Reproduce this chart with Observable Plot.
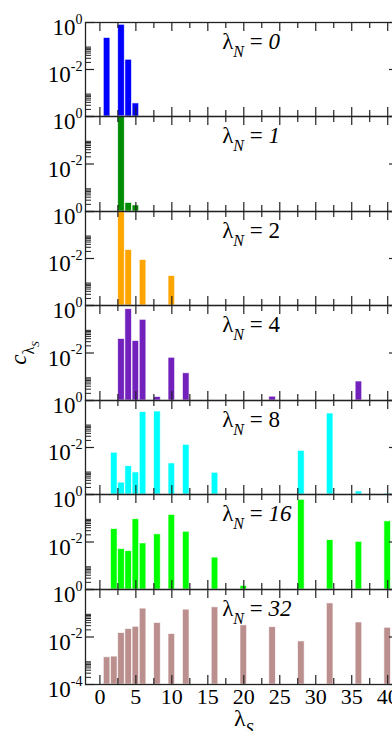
<!DOCTYPE html>
<html><head><meta charset="utf-8">
<script src="https://cdn.jsdelivr.net/npm/d3@7"></script>
<script src="https://cdn.jsdelivr.net/npm/@observablehq/plot@0.6"></script>
<style>
html, body {margin:0; padding:0; background:#fff;}
#chart {position:relative; width:392px; height:731px; overflow:hidden; background:#fff;}
#chart svg, #chart svg text, #chart svg tspan {font-family: 'Liberation Serif', 'Times New Roman', serif !important;}
</style></head><body><div id="chart"></div>
<script>
// ---- data ----
const lambdaN = [0, 1, 2, 4, 8, 16, 32];
const panelLabels = ["λ_{N} = *0*", "λ_{N} = *1*", "λ_{N} = 2", "λ_{N} = 4", "λ_{N} = 8", "λ_{N} = *16*", "λ_{N} = *32*"];
const colors = ["#0000ff", "#008b00", "#ffa500", "#7221bc", "#00ffff", "#00ff00", "#bc8f8f"];

const xs0 = [1, 3, 4, 5];
const c0  = [0.22, 0.80, 0.026, 3.6e-4];
const xs1 = [3, 4, 5];
const c1  = [0.98, 2.3e-4, 1.8e-4];
const xs2 = [3, 4, 6, 10];
const c2  = [0.95, 0.023, 0.0087, 0.0018];
const xs3 = [3, 4, 5, 6, 8, 10, 12, 24, 36];
const c3  = [0.039, 0.70, 0.032, 0.25, 1.4e-4, 0.0063, 0.0014, 1.45e-4, 6.3e-4];
const xs4 = [2, 3, 4, 5, 6, 8, 10, 12, 16, 28, 32, 36, 40];
const c4  = [0.006, 3.2e-4, 0.0016, 8.7e-4, 0.32, 0.34, 0.0021, 0.013, 8.4e-4, 0.0072, 0.28, 1.35e-4, 1.1e-4];
const xs5 = [2, 3, 4, 5, 6, 8, 10, 12, 16, 20, 28, 32, 36, 40];
const c5  = [0.035, 0.005, 0.0041, 0.091, 0.0087, 0.021, 0.138, 0.027, 0.0022, 1.4e-4, 0.6, 0.012, 0.0102, 0.074];
const xs6 = [1, 2, 3, 4, 5, 6, 8, 10, 12, 16, 20, 24, 28, 32, 36, 40];
const c6  = [0.0014, 0.0015, 0.0146, 0.0215, 0.027, 0.157, 0.039, 0.0133, 0.142, 0.178, 0.031, 0.026, 0.0065, 0.26, 0.041, 0.0245];

const seriesX = [xs0, xs1, xs2, xs3, xs4, xs5, xs6];
const seriesC = [c0, c1, c2, c3, c4, c5, c6];

const xMajorTicks = [0, 5, 10, 15, 20, 25, 30, 35, 40];
const xMinorTicks = [2.5, 7.5, 12.5, 17.5, 22.5, 27.5, 32.5, 37.5];
const yMajorTicks = [1, 1e-2, 1e-4];
const yMinorTicks = [2e-2, 3e-2, 4e-2, 5e-2, 6e-2, 7e-2, 8e-2, 9e-2, 2e-4, 3e-4, 4e-4, 5e-4, 6e-4, 7e-4, 8e-4, 9e-4];
const yTickLabelText = ["10^{0}", "10^{-2}", "10^{-4}"];
const xTitle = "λ_{S}";
const yTitle = "*c*_{λ}__{S}";

// ---- layout ----
const panelTop = [22, 116, 211, 305, 400, 494, 589];
const panelH = [94, 95, 94, 95, 94, 95, 95];
const W = 400, ML = 85, MR = 2, MT = 22, MB = 47;
const innerW = W - ML - MR;
const FONT = "'Liberation Serif', 'Times New Roman', serif";

function richify(svg) {
  d3.select(svg).selectAll("text").each(function () {
    const s = this.textContent;
    if (!/[\^_*]/.test(s)) return;
    const tokens = s.match(/\^\{[^}]*\}|__\{[^}]*\}|_\{[^}]*\}|\*[^*]*\*|[^\^_*]+/g);
    const el = d3.select(this);
    el.text(null).attr("dy", null);
    let cur = 0;
    for (const tok of tokens) {
      let txt = tok, shift = 0, size = null, italic = false;
      if (tok.startsWith("^{")) { txt = tok.slice(2, -1); shift = -11.5; size = 14; }
      else if (tok.startsWith("__{")) { txt = tok.slice(3, -1); shift = 13; size = 11; italic = true; }
      else if (tok.startsWith("_{")) { txt = tok.slice(2, -1); shift = 8.5; size = 16; italic = /^[A-Za-z]+$/.test(txt); }
      else if (tok.startsWith("*")) { txt = tok.slice(1, -1); italic = true; }
      const ts = el.append("tspan").text(txt);
      if (shift !== cur) ts.attr("dy", shift - cur);
      if (size) ts.attr("font-size", size);
      if (italic) ts.attr("font-style", "italic");
      cur = shift;
    }
  });
}

const chart = document.getElementById("chart");
lambdaN.forEach((ln, i) => {
  const H = panelH[i];
  const rows = seriesX[i].map((x, j) => ({x, c: seriesC[i][j]}));
  const last = i === lambdaN.length - 1;
  const yLabels = yMajorTicks.map((v, k) => ({v, t: yTickLabelText[k]})).filter((d, k) => last || k < 2);
  const marks = [
    Plot.rect(rows, {x1: d => d.x - 0.46, x2: d => d.x + 0.46, y1: 1e-4, y2: "c", fill: colors[i], stroke: "white", strokeWidth: 0.8, strokeOpacity: 0.8}),
    Plot.frame({stroke: "#222", strokeWidth: 1.3}),
    Plot.ruleX(xMajorTicks, {x: d => d, insetBottom: H - 9, stroke: "#222", strokeWidth: 1.2}),
    Plot.ruleX(xMinorTicks, {x: d => d, insetBottom: H - 6, stroke: "#222", strokeWidth: 1.2}),
    Plot.ruleX(xMajorTicks, {x: d => d, insetTop: H - 9, stroke: "#222", strokeWidth: 1.2}),
    Plot.ruleX(xMinorTicks, {x: d => d, insetTop: H - 6, stroke: "#222", strokeWidth: 1.2}),
    Plot.ruleY(yMajorTicks, {y: d => d, insetRight: innerW - 9, stroke: "#222", strokeWidth: 1.2}),
    Plot.ruleY(yMinorTicks, {y: d => d, insetRight: innerW - 6, stroke: "#222", strokeWidth: 1}),
    Plot.ruleY(yMajorTicks, {y: d => d, insetLeft: innerW - 9, stroke: "#222", strokeWidth: 1.2}),
    Plot.text(yLabels, {y: "v", text: "t", frameAnchor: "left", textAnchor: "end", lineAnchor: "bottom", dx: -3, dy: 12.5, fontSize: 23, fill: "black", fontFamily: FONT}),
    Plot.text([panelLabels[i]], {x: 17, text: d => d, frameAnchor: "top", textAnchor: "start", lineAnchor: "bottom", dy: 26, fontSize: 23, fill: "black", fontFamily: FONT})
  ];
  if (last) {
    marks.push(Plot.text(xMajorTicks, {x: d => d, text: d => String(d), frameAnchor: "bottom", lineAnchor: "bottom", dy: 19, fontSize: 22, fill: "black", fontFamily: FONT}));
    marks.push(Plot.text([xTitle], {x: 20, text: d => d, frameAnchor: "bottom", lineAnchor: "bottom", dy: 41, fontSize: 24, fill: "black", fontFamily: FONT}));
  }
  if (i === 3) {
    marks.push(Plot.text([yTitle], {text: d => d, frameAnchor: "left", dx: -60, rotate: -90, textAnchor: "middle", lineAnchor: "bottom", fontSize: 23, fill: "black", fontFamily: FONT}));
  }
  const svg = Plot.plot({
    width: W, height: MT + H + MB,
    marginLeft: ML, marginRight: MR, marginTop: MT, marginBottom: MB,
    x: {domain: [-2, 41.5], axis: null},
    y: {type: "log", domain: [1e-4, 1], axis: null},
    marks
  });
  svg.setAttribute("font-family", FONT);
  svg.style.fontFamily = FONT;
  svg.style.background = "transparent";
  svg.style.overflow = "visible";
  svg.style.maxWidth = "none";
  svg.style.position = "absolute";
  svg.style.left = "0px";
  svg.style.top = (panelTop[i] - MT) + "px";
  richify(svg);
  chart.appendChild(svg);
});
</script></body></html>
